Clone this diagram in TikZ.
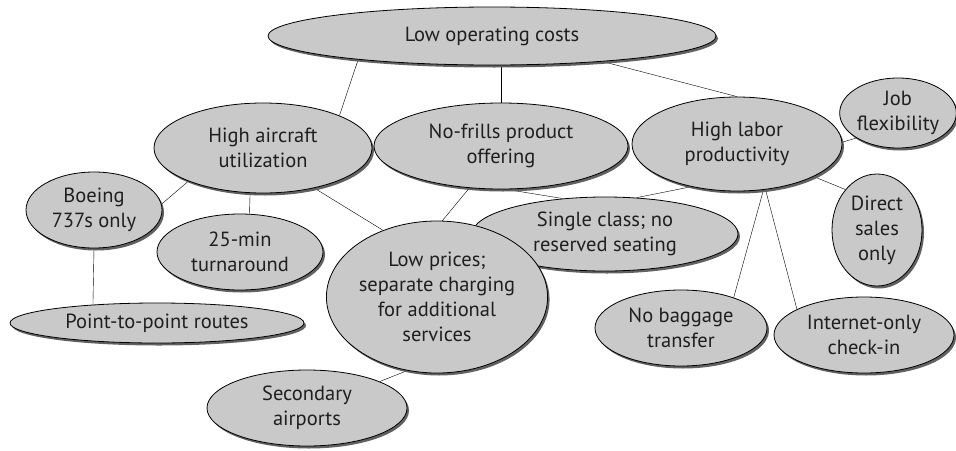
\documentclass[tikz,border=0pt]{standalone}
\usepackage{fontspec}
\setmainfont{PT Sans}
\usetikzlibrary{shapes.geometric,shadows,backgrounds}

\tikzset{
  bulle/.style={ellipse, draw=black, line width=0.8pt, fill=black!21,
    inner sep=0pt, align=center, text=black!88,
    font=\fontsize{20.5}{25}\selectfont,
    drop shadow={shadow xshift=2pt, shadow yshift=-2.5pt, fill=black!62, opacity=1}},
}

\begin{document}
\begin{tikzpicture}[x=1pt,y=-1pt]
	\useasboundingbox (0,0) rectangle (956,450);
	% les bulles
	\node[bulle, minimum width=448pt, minimum height=58pt] (couts) at (492,36) {Low operating costs};
	\node[bulle, minimum width=218pt, minimum height=90pt] (avion) at (263,148) {High aircraft\\utilization};
	\node[bulle, minimum width=254pt, minimum height=86pt] (offre) at (501,146) {No-frills product\\offering};
	\node[bulle, minimum width=210pt, minimum height=94pt] (travail) at (737,144) {High labor\\productivity};
	\node[bulle, minimum width=112pt, minimum height=70pt] (flex) at (898,113) {Job\\flexibility};
	\node[bulle, minimum width=136pt, minimum height=76pt] (boeing) at (94,210) {Boeing\\737s only};
	\node[bulle, minimum width=166pt, minimum height=76pt] (rotation) at (240,252) {25-min\\turnaround};
	\node[bulle, minimum width=294pt, minimum height=40pt] (routes) at (157,323) {Point-to-point routes};
	\node[bulle, minimum width=200pt, minimum height=76pt] (aeroports) at (307,408) {Secondary\\airports};
	\node[bulle, minimum width=266pt, minimum height=74pt] (classe) at (605,234) {Single class; no\\reserved seating};
	\node[bulle, minimum width=210pt, minimum height=152pt] (prix) at (437,297) {Low prices;\\separate charging\\for additional\\services};
	\node[bulle, minimum width=90pt, minimum height=112pt] (directe) at (877,230) {Direct\\sales\\only};
	\node[bulle, minimum width=172pt, minimum height=76pt] (bagages) at (681,328) {No baggage\\transfer};
	\node[bulle, minimum width=180pt, minimum height=76pt] (internet) at (864,335) {Internet-only\\check-in};

	% les liens, sous les bulles
	\begin{pgfonlayer}{background}
	\draw (couts.190) -- (avion.23);
	\draw (offre.north) -- (offre.north |- couts.south);
	\draw (couts.-13) -- (travail.north);
	\draw (avion.204) -- (boeing.5);
	\draw (avion.-106) -- (rotation.76);
	\draw (avion.-38) -- (prix.129);
	\draw (offre.233) -- (prix.86);
	\draw (offre.-83) -- (classe.140);
	\draw (travail.223) -- (classe.49);
	\draw (travail.1) -- (flex.211);
	\draw (travail.-23) -- (directe.128);
	\draw (travail.-60) -- (bagages.30);
	\draw (travail.-58) -- (internet.159);
	\draw (prix.248) -- (aeroports.20);
	\draw (boeing.south) -- (routes.164);
	\end{pgfonlayer}
\end{tikzpicture}
\end{document}
